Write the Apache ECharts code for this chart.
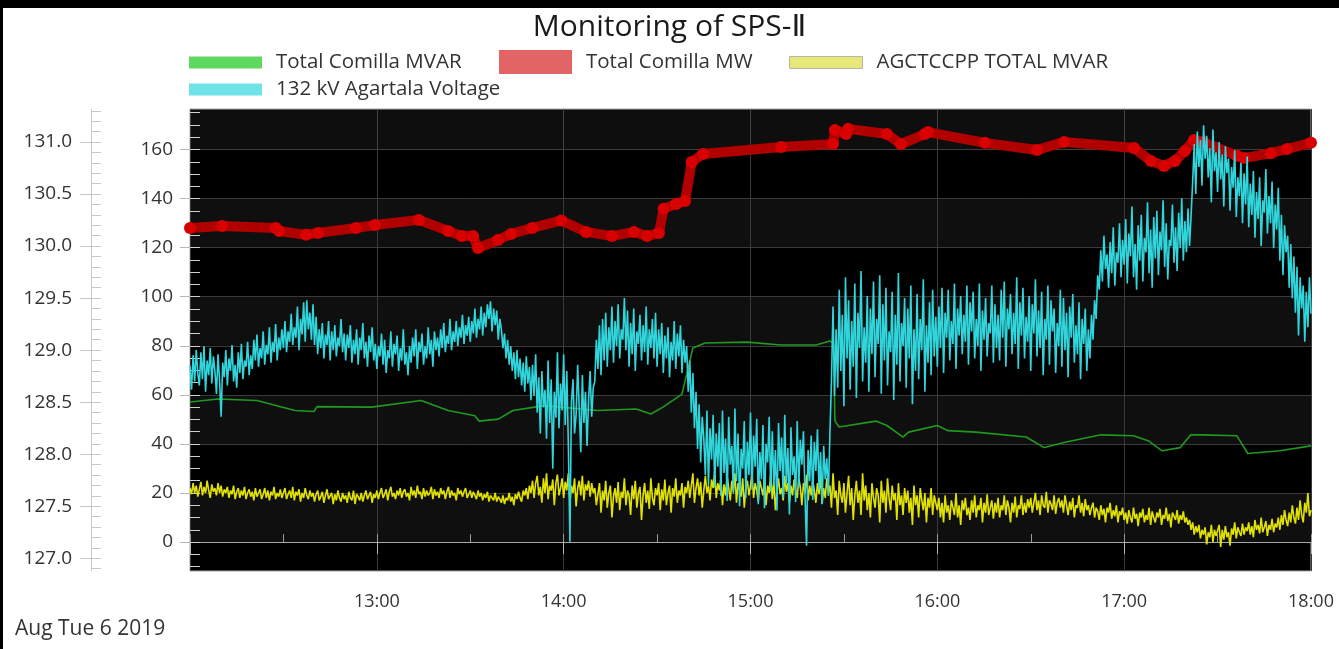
<!DOCTYPE html>
<html>
<head>
<meta charset="utf-8">
<script src="https://cdn.jsdelivr.net/npm/echarts@6/dist/echarts.min.js"></script>
<style>
html,body{margin:0;padding:0;background:#fff;}
#chart{width:1339px;height:649px;}
</style>
</head>
<body>
<div id="chart"></div>
<script>
// ---------- DATA ----------
const titleText = 'Monitoring of SPS-Ⅱ';
const dateText = 'Aug Tue 6 2019';
const seriesNames = ['Total Comilla MVAR', 'Total Comilla MW', 'AGCTCCPP TOTAL MVAR', '132 kV Agartala Voltage'];

// x: minutes after 12:00
const xTickLabels = ['', '13:00', '14:00', '15:00', '16:00', '17:00', '18:00'];
const mwTickValues = [0, 20, 40, 60, 80, 100, 120, 140, 160];
const voltTickValues = [127.0, 127.5, 128.0, 128.5, 129.0, 129.5, 130.0, 130.5, 131.0];

// Total Comilla MW (red) - minutes after 12:00, MW
const mwMinutes = [0, 10.3, 27.6, 28.6, 37.3, 41.1, 53.3, 59.4, 73.5, 82.9, 87.3, 90.9, 92.5, 98.9, 103.1, 109.9, 119.2, 127.2, 135.5, 142.6, 146.8, 150.6, 152.1, 156.1, 159, 161.1, 164.8, 189.8, 206.5, 207.1, 210.7, 211.3, 223.8, 228.3, 236, 237, 255.3, 272, 280.7, 303.2, 308.6, 312.8, 316.3, 319.5, 322.4, 325.3, 336.2, 338.5, 347.1, 352.3, 360];
const mwValues = [128.0, 128.8, 128.0, 126.8, 125.2, 126.0, 128.0, 129.2, 131.3, 126.8, 124.7, 124.7, 119.8, 123.1, 125.6, 128.0, 131.1, 126.4, 124.7, 126.4, 124.7, 126.0, 135.8, 137.8, 139.0, 154.9, 158.2, 161.0, 162.2, 167.9, 166.3, 168.4, 166.3, 162.2, 166.3, 167.1, 162.7, 159.8, 163.1, 160.6, 155.3, 153.3, 155.3, 159.4, 163.9, 163.1, 157.4, 156.5, 158.5, 160.2, 162.7];

// Total Comilla MVAR (green) - minutes after 12:00, MVAR
const mvarMinutes = [0, 9, 21.5, 33.7, 39.8, 40.8, 58.3, 74.2, 82.9, 91.5, 92.8, 99, 103.7, 113.7, 130.9, 143.3, 148, 151.9, 158, 161.5, 165.4, 178.9, 189.8, 201, 205.5, 206.7, 207.1, 208.4, 220.3, 223.8, 229, 230.8, 240, 243.4, 252.4, 268.5, 274.3, 281.4, 292.6, 303, 307.7, 312.2, 318, 321.4, 324.7, 336.2, 339.7, 350, 360];
const mvarValues = [57.1, 58.3, 57.7, 53.6, 53.2, 55.2, 55.0, 57.7, 53.6, 51.5, 49.3, 50.1, 53.6, 55.6, 53.6, 54.2, 52.2, 55.0, 60.3, 79.1, 81.1, 81.5, 80.3, 80.3, 81.9, 81.1, 49.5, 46.9, 49.3, 47.5, 42.8, 44.8, 47.5, 45.4, 44.8, 42.8, 38.5, 40.8, 43.7, 43.3, 41.3, 37.2, 38.5, 43.7, 43.7, 43.3, 36.1, 37.2, 39.2];

// noisy series are sampled every half minute from 12:00 to 18:00
const sampleStepMin = 0.5;

// AGCTCCPP TOTAL MVAR (yellow)
const agcMvar = [
22,19.5,24,20,23,18.5,21.5,24.5,19,22.5,20,25,21,18,23.5,20.5,22,19,24,20,
23,18.5,21.5,20,22.5,18,21,19.5,23,17.5,20.5,22,18,21,19,22.5,17.5,20,21.5,18.5,
20.5,17,22,18.5,20,21.5,17.5,19.5,22,18,21,17,20.5,19,22.5,17.5,20,18.5,21.5,18,
20,22,17.5,19.5,21,18,22.5,17,20.5,19,21.5,16.5,20,18,22,19,17.5,21,18.5,20,
16.5,19.5,21,17,18.5,20.5,16,19,21.5,17.5,18,20,15.5,19.5,17,21,18,16.5,20,17.5,
19,16,20.5,18,17,21,15.5,19.5,18.5,17,20,16.5,19,21,17.5,18,20.5,16,19.5,18,
21,17.5,20,22,18,19.5,21.5,17,20.5,22.5,18.5,20,17.5,21,19,22,18,20.5,21.5,18.5,
20,17,22.5,19,21,18,23,19.5,20.5,17.5,22,18.5,21,19,20,22.5,17.5,21.5,19,20.5,
18,22,19.5,21,17.5,20.5,22.5,18,21,19,20,17,22,19.5,21,18.5,20.5,22,18,19.5,
21,18,20.5,19,17.5,21,18.5,20,17,19.5,18,20.5,16.5,19,18,17,20,16.5,18.5,17.5,
16,19,15.5,18,17,20,16.5,18.5,15,19.5,17.5,20.5,18,16.5,21,19,22,17.5,23,20,
25,18,24,27,19,22.5,16,26,20,28,17.5,23,21,25.5,15,24,27.5,19,22,26,
18,24.5,21,28,16,23,20,26,14.5,22,25,19,27,17,23.5,21,25,18.5,24,20,
22,15,19.5,24,12,21,17,25,14,20,23,10,18.5,22,16,24.5,13,20.5,18,26,
15,21,19,11,23,17.5,25,14,20,22.5,9,19,24,16,21,13.5,26,18,15,22,
19,24,13,21.5,17,25.5,15,20,23,12,22,18.5,26,16,21,19,24,14,22.5,20,
25,18,23,28,16,22,26,19,24.5,14,21,27,20,23,17,25.5,22,28.5,18,24,
21,26,15,23.5,19,27,22,17,25,20.5,28,16,24,21,18.5,26,14,22,25,19,
23,27.5,18,24,21,16.5,25,22,19,26.5,15,23,20,28,17.5,24.5,13,21,26,19.5,
22,17,27,20.5,24,16,23,19,25.5,21,18,26,22.5,15,24,20,27.5,17,23,19,
25,21,16,24,19.5,27,15.5,22,18,26,20,23,14,28,18,21,11,25,19,16,
24,12,20,27,15,22,9,19,25,16,21,11,28,17,23,13,20,10,24,18,
14,22,19,8,25,16,21,12,26,18,13,23,17,20,9,24,15,19,11,22,
16,21,12,18,7,23,15,19,10,22,17,13,20,8,18,14,22,11,19,16,
13,18,10,16,8,19,12,15,9,17,14,11,20,10,15,7,17,13,18,11,
14,9,17,12,19,10,15,13,18,8,16,12,19.5,11,14,17,9.5,16,12,18,
10,15,13,19,11,17,14,8,16,12,18.5,10,15,13.5,19,11,16,12,17.5,14,
18,12,16,20,13,17,11,19,15,14,20.5,12,17,15.5,13,19,11.5,16,18,14,
17,12,19,15,11,16.5,13,18,10,15,14,19,12,16,10.5,17.5,13,15,11,14,
16,10,14,12.5,9,15,11,13.5,8,14,12,16,9.5,13,10.5,15,8,12.5,11,14,
9,12,7.5,13,10,8,14,9.5,11.5,6.5,12,10,13.5,8,11,9,14,7,12.5,10,
8,12,10,13.5,7,11,9.5,14,8.5,11.5,6,12,10.5,9,13,7.5,11,9,12.5,8,
10,7,9,5,8,3,6.5,4,7,1.5,5,3,6,-1,4,2,7,0,5,2.5,
3,7,-2,5,1,6.5,2,4,-1.5,5.5,3,8,1.5,6,4,2.5,7.5,3,6,4.5,
8,3,6.5,2,9,5,7,3.5,10,4,6,8.5,2.5,7,5,9.5,4,7.5,6,10,
5,11,7,13,9,6.5,12,8,15,10,7.5,14,9,17,11,8,16,12,20,10.5,
13
];

// 132 kV Agartala Voltage (cyan), kV
const agartalaKv = [
128.85,128.62,128.95,128.70,129.00,128.78,128.66,128.98,128.72,129.04,128.60,128.90,128.76,129.02,128.68,128.94,128.80,128.58,128.96,128.70,
128.36,128.88,128.74,129.00,128.66,128.92,128.80,129.05,128.70,128.86,128.64,128.98,128.78,129.06,128.72,128.90,128.84,129.08,128.76,128.95,
128.82,129.10,128.90,129.15,128.84,129.02,128.92,129.18,128.86,129.05,128.96,129.22,128.88,129.08,128.98,129.25,128.90,129.12,129.00,129.20,
129.02,129.28,128.98,129.18,129.08,129.35,129.05,129.22,129.12,129.42,129.00,129.30,129.15,129.46,129.08,129.48,129.20,129.36,129.10,129.44,
129.05,129.32,128.96,129.20,129.02,129.26,128.92,129.15,129.05,129.28,128.90,129.18,129.00,129.24,128.94,129.12,129.04,129.30,128.98,129.16,
128.90,129.15,129.02,129.24,128.88,129.10,128.96,129.20,128.86,129.12,129.00,129.26,128.92,129.08,128.84,129.14,128.98,129.22,128.90,129.06,
128.82,129.04,128.94,129.16,128.86,129.10,128.78,129.00,128.92,129.18,128.84,129.06,128.96,129.14,128.80,129.02,128.90,129.20,128.86,128.98,
128.76,129.04,128.88,129.12,128.94,129.20,128.82,129.08,128.98,129.16,128.86,129.04,128.92,129.22,128.96,129.10,128.84,129.18,129.00,129.12,
128.94,129.20,129.02,129.26,128.98,129.14,129.06,129.30,129.00,129.18,129.08,129.28,129.04,129.22,129.12,129.34,129.06,129.24,129.14,129.32,
129.08,129.28,129.16,129.40,129.12,129.30,129.20,129.42,129.14,129.36,129.22,129.44,129.30,129.47,129.18,129.40,129.24,129.38,129.10,129.30,
129.20,129.02,129.16,128.92,129.10,128.86,129.04,128.80,128.98,128.72,129.00,128.74,128.92,128.66,128.88,128.60,128.94,128.68,128.84,128.52,
128.86,128.56,128.96,128.40,128.74,128.20,128.80,128.45,128.62,128.15,128.90,128.30,128.72,127.86,128.60,128.35,128.98,128.25,128.68,128.42,
128.96,128.28,128.80,128.10,127.16,128.50,128.72,128.20,128.38,128.86,128.44,128.02,128.76,128.30,128.60,128.08,128.52,128.80,128.36,128.64,
128.70,129.10,128.82,129.24,128.76,129.30,128.90,129.36,128.84,129.22,129.00,129.42,128.88,129.28,129.04,129.44,128.92,129.20,129.10,129.50,
129.00,129.38,128.84,129.26,128.96,129.40,128.80,129.18,129.06,129.34,128.90,129.24,128.98,129.42,128.86,129.20,129.02,129.30,128.92,129.36,
128.84,129.20,128.96,129.26,128.78,129.14,128.92,129.22,128.74,129.08,128.90,129.28,128.82,129.16,128.94,129.24,128.78,129.10,128.88,129.04,
128.60,128.90,128.40,128.78,128.25,128.60,128.05,128.48,127.92,128.36,128.15,127.80,128.42,127.70,128.25,127.95,128.38,127.68,128.20,127.88,
128.30,127.60,128.42,127.82,128.15,127.55,128.36,127.90,128.08,127.62,128.44,127.74,128.20,127.50,128.05,127.86,128.32,127.58,128.12,127.80,
128.40,127.66,128.18,127.88,128.34,127.52,128.02,127.76,128.28,127.48,128.10,127.92,128.36,127.64,128.22,127.70,128.04,127.46,128.30,127.84,
128.16,127.58,128.38,127.72,128.06,127.42,128.26,127.80,127.98,127.54,128.32,127.68,128.14,127.90,128.22,127.60,127.12,128.04,127.74,128.18,
127.56,128.12,127.84,128.24,127.66,128.02,127.52,128.08,127.76,127.96,127.60,128.20,128.70,129.42,128.56,129.20,128.64,129.58,128.80,129.34,
128.46,129.70,128.92,129.48,128.62,129.28,128.84,129.64,128.54,129.36,129.02,129.76,128.70,129.22,128.88,129.52,128.60,129.40,128.96,129.66,
128.74,129.30,129.06,129.72,128.58,129.44,128.90,129.60,128.66,129.18,128.98,129.56,128.52,129.34,128.86,129.74,128.70,129.26,129.04,129.50,
128.64,129.40,128.92,129.62,128.48,129.20,128.80,129.54,128.72,129.30,129.00,129.68,128.60,129.24,128.88,129.46,128.76,129.58,128.94,129.32,
128.84,129.42,129.02,129.60,128.78,129.36,129.12,129.58,128.90,129.28,129.06,129.64,128.82,129.40,129.14,129.52,128.96,129.34,129.08,129.62,
128.86,129.46,129.18,129.56,128.92,129.30,129.04,129.64,128.80,129.38,129.10,129.50,128.94,129.26,129.16,129.62,128.88,129.44,129.02,129.34,
128.90,129.58,129.12,129.66,128.84,129.40,129.20,129.54,128.96,129.36,129.06,129.70,128.82,129.46,129.14,129.60,128.92,129.32,129.08,129.52,
128.80,129.44,129.16,129.68,128.94,129.38,129.02,129.56,128.76,129.30,129.10,129.62,128.86,129.48,129.18,129.40,128.78,129.26,129.04,129.58,
128.84,129.50,129.00,129.36,128.74,129.42,129.12,129.54,128.88,129.24,128.96,129.46,128.72,129.30,129.06,129.40,128.80,129.20,128.92,129.34,
129.10,129.48,129.30,129.72,129.58,129.96,129.66,130.10,129.78,129.92,129.60,130.04,129.74,130.18,129.62,129.94,129.84,130.22,129.70,130.06,
129.82,130.26,129.64,130.12,129.90,130.38,129.70,130.02,129.58,130.20,129.86,130.30,129.66,130.08,129.94,130.42,129.74,130.16,129.60,130.28,
129.88,130.34,129.72,130.14,129.96,130.44,129.80,130.22,129.68,130.06,130.00,130.40,129.84,130.18,129.76,130.32,129.98,130.46,129.86,130.24,
129.94,130.36,130.00,130.30,130.62,130.98,130.50,131.10,130.76,131.02,130.58,131.16,130.84,131.06,130.66,130.94,130.42,131.12,130.72,130.90,
130.52,131.00,130.64,130.88,130.38,130.96,130.70,130.84,130.34,130.76,130.56,130.92,130.28,130.66,130.48,130.80,130.22,130.70,130.40,130.86,
130.18,130.60,130.30,130.72,130.08,130.52,130.26,130.66,130.00,130.44,130.32,130.74,130.12,130.48,130.22,130.62,129.98,130.40,130.16,130.56,
129.86,130.30,129.72,130.20,129.94,130.10,129.60,130.02,129.50,129.90,129.36,129.80,129.14,129.70,129.40,129.62,129.08,129.56,129.22,129.70,
129.35
];

// ---------- CHART ----------
const FONT = "'Open Sans', 'Noto Sans', 'DejaVu Sans', sans-serif";
const mwMin = -11.8, mwMax = 176.5;
const kvMin = 126.878, kvMax = 131.317;

const mwMinorTicks = [];
for (let v = -10; v <= 175; v += 5) mwMinorTicks.push(v);
const kvMinorTicks = [];
for (let i = 0; i <= 44; i++) kvMinorTicks.push(Math.round((126.9 + i * 0.1) * 10) / 10);

const pairs = (xs, ys) => ys.map((y, i) => [xs[i], y]);
const sampled = ys => ys.map((y, i) => [i * sampleStepMin, y]);

const chart = echarts.init(document.getElementById('chart'), null, {renderer: 'canvas'});

function legendBox(name, left, top, color, h, border) {
  return {
    show: true, left: left, top: top, padding: 0, orient: 'horizontal',
    itemWidth: 73, itemHeight: h, icon: 'rect', selectedMode: false,
    data: [{name: name, icon: 'rect', itemStyle: {color: color, borderColor: border, borderWidth: border ? 1 : 0}}],
    textStyle: {fontSize: 20.5, color: '#333', fontFamily: FONT, padding: [0, 0, 0, 9]}
  };
}

const option = {
  animation: false,
  backgroundColor: '#ffffff',
  textStyle: {fontFamily: FONT},
  title: {
    text: titleText, left: 'center', top: 12, padding: 0,
    textStyle: {fontSize: 30, fontWeight: 'normal', color: '#1a1a1a', fontFamily: FONT}
  },
  legend: [
    legendBox(seriesNames[0], 189, 52, '#5fd85f', 12, null),
    legendBox(seriesNames[1], 499, 50, '#e26464', 24, null),
    legendBox(seriesNames[2], 789, 52, '#e8e87a', 12, '#b8b8a0'),
    legendBox(seriesNames[3], 189, 79, '#6fe3e8', 12, null)
  ],
  graphic: [
    {type: 'rect', left: 0, top: 0, shape: {width: 1339, height: 8}, style: {fill: '#000'}, z: 100},
    {type: 'rect', left: 0, top: 0, shape: {width: 3, height: 649}, style: {fill: '#000'}, z: 100},
    {type: 'text', left: 15, top: 619, style: {text: dateText, fill: '#333', font: '21px ' + FONT}}
  ],
  grid: {
    left: 190, right: 28, top: 109, bottom: 78,
    show: true, backgroundColor: '#000000', borderColor: '#a8a8a8', borderWidth: 1
  },
  xAxis: [
    {
      type: 'value', min: 0, max: 360, interval: 60, position: 'bottom',
      axisLine: {show: true, lineStyle: {color: '#a8a8a8'}},
      axisTick: {show: true, length: 12, lineStyle: {color: '#b8b8b8'}},
      axisLabel: {fontSize: 18, color: '#333', margin: 22, fontFamily: FONT,
        formatter: v => xTickLabels[Math.round(v / 60)] || ''},
      splitLine: {show: true, lineStyle: {color: '#3a3a3a', width: 1}}
    },
    {
      type: 'value', min: 0, max: 360, interval: 30, position: 'bottom',
      axisLine: {show: false},
      axisTick: {show: true, inside: true, length: 8, lineStyle: {color: '#9a9a9a'}},
      axisLabel: {show: false}, splitLine: {show: false}
    }
  ],
  yAxis: [
    {
      type: 'value', min: mwMin, max: mwMax, position: 'left', offset: 0,
      axisLine: {show: false},
      axisTick: {show: true, length: 10, customValues: mwTickValues, lineStyle: {color: '#b8b8b8'}},
      axisLabel: {show: true, customValues: mwTickValues, fontSize: 19, color: '#333', margin: 17, fontFamily: FONT},
      splitLine: {show: true, lineStyle: {color: '#3a3a3a', width: 1}},
      splitArea: {show: true, areaStyle: {color: ['#0f0f0f', '#000000']}}
    },
    {
      type: 'value', min: mwMin, max: mwMax, position: 'left', offset: 0,
      axisLine: {show: false},
      axisTick: {show: true, inside: true, length: 10, customValues: mwMinorTicks, lineStyle: {color: '#cfcfcf'}},
      axisLabel: {show: false}, splitLine: {show: false}, splitArea: {show: false}
    },
    {
      type: 'value', min: kvMin, max: kvMax, position: 'left', offset: 99,
      axisLine: {show: true, lineStyle: {color: '#c8c8c8'}},
      axisTick: {show: true, length: 11, customValues: voltTickValues, lineStyle: {color: '#c8c8c8'}},
      axisLabel: {show: true, customValues: voltTickValues, fontSize: 19, color: '#333', margin: 19, fontFamily: FONT,
        formatter: v => v.toFixed(1)},
      splitLine: {show: false}, splitArea: {show: false}
    },
    {
      type: 'value', min: kvMin, max: kvMax, position: 'left', offset: 99,
      axisLine: {show: false},
      axisTick: {show: true, inside: true, length: 10, customValues: kvMinorTicks, lineStyle: {color: '#c8c8c8'}},
      axisLabel: {show: false}, splitLine: {show: false}, splitArea: {show: false}
    }
  ],
  series: [
    {
      name: seriesNames[1], type: 'line', xAxisIndex: 0, yAxisIndex: 0,
      data: pairs(mwMinutes, mwValues),
      showSymbol: true, symbol: 'circle', symbolSize: 12,
      lineStyle: {color: '#b00000', width: 10},
      itemStyle: {color: '#d80000'},
      markArea: {silent: true, itemStyle: {color: 'rgba(255,255,255,0.055)'}, data: [[{yAxis: 160}, {yAxis: mwMax}]]},
      z: 2
    },
    {
      name: seriesNames[0], type: 'line', xAxisIndex: 0, yAxisIndex: 0,
      data: pairs(mvarMinutes, mvarValues),
      showSymbol: false, lineStyle: {color: '#1f9a1f', width: 1.6}, itemStyle: {color: '#1f9a1f'}, z: 3
    },
    {
      name: seriesNames[2], type: 'line', xAxisIndex: 0, yAxisIndex: 0,
      data: sampled(agcMvar),
      showSymbol: false, lineStyle: {color: '#e2e200', width: 1.6}, itemStyle: {color: '#e2e200'}, z: 4
    },
    {
      name: seriesNames[3], type: 'line', xAxisIndex: 0, yAxisIndex: 2,
      data: sampled(agartalaKv),
      showSymbol: false, lineStyle: {color: '#30d6dc', width: 1.6}, itemStyle: {color: '#30d6dc'}, z: 5
    }
  ]
};
chart.setOption(option);
</script>
</body>
</html>
